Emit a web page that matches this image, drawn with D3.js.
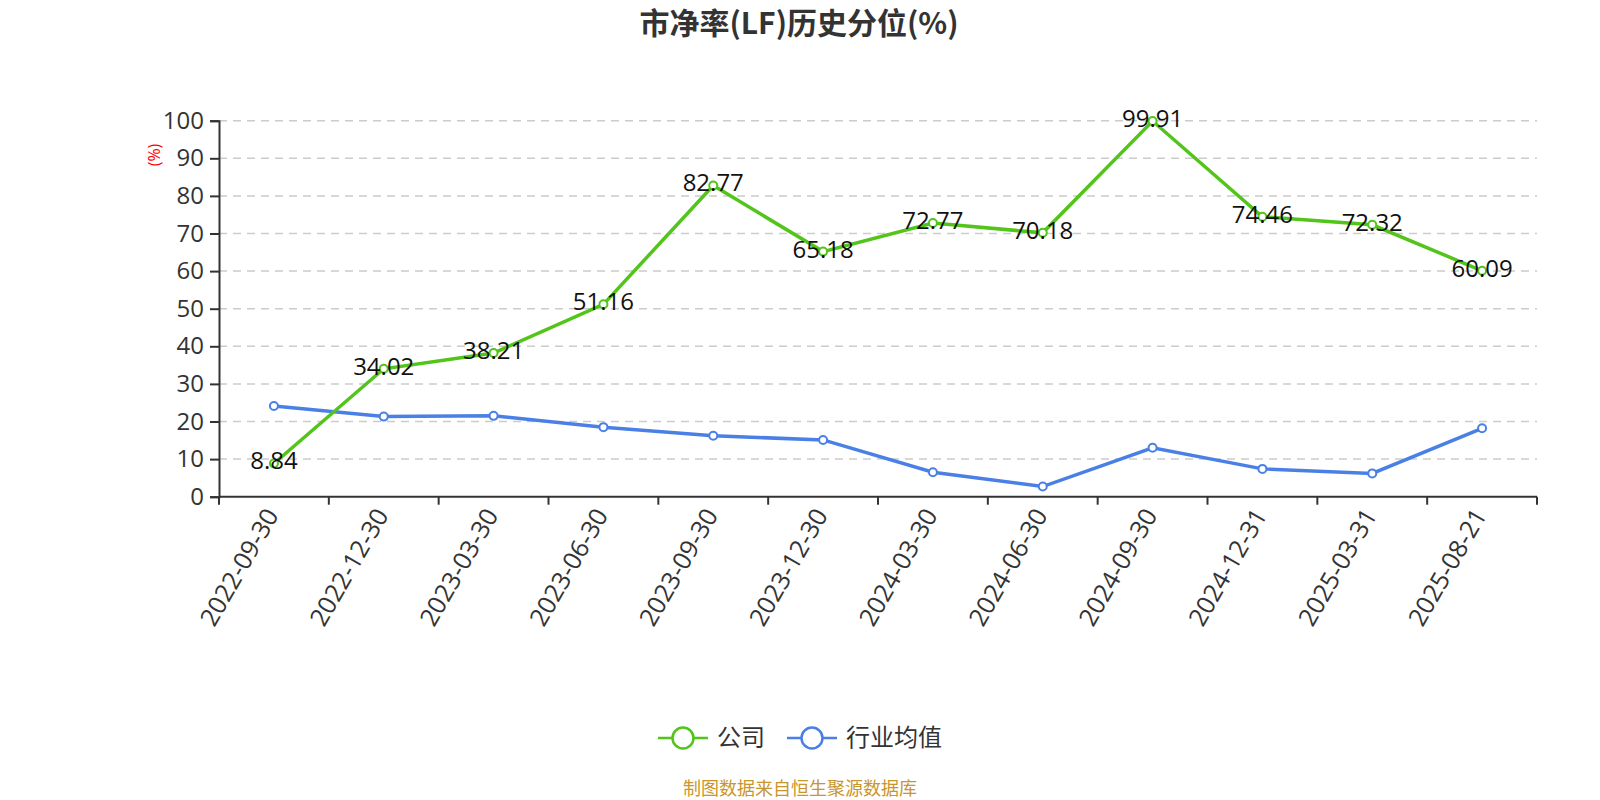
<!DOCTYPE html>
<html>
<head>
<meta charset="utf-8">
<script src="https://cdn.jsdelivr.net/npm/d3@7"></script>
<style>
  body { margin: 0; background: #fff; }
  text { font-family: "Open Sans", "Noto Sans CJK SC", sans-serif; }
</style>
</head>
<body>
<div id="chart"></div>
<script>
// Data
const dates = ['2022-09-30', '2022-12-30', '2023-03-30', '2023-06-30', '2023-09-30', '2023-12-30',
    '2024-03-30', '2024-06-30', '2024-09-30', '2024-12-31', '2025-03-31', '2025-08-21'];
const companyValues = [8.84, 34.02, 38.21, 51.16, 82.77, 65.18, 72.77, 70.18, 99.91, 74.46, 72.32, 60.09];
const industryValues = [24.1, 21.3, 21.5, 18.5, 16.2, 15.1, 6.5, 2.7, 13.0, 7.4, 6.2, 18.2];
const yTicks = [0, 10, 20, 30, 40, 50, 60, 70, 80, 90, 100];
const seriesNames = ['公司', '行业均值'];

const width = 1600;
const height = 800;
const margin = { top: 120.7, right: 63, bottom: 303.3, left: 219 };
const green = '#52c41a';
const blue = '#4a80e6';

const svg = d3.select('#chart').append('svg')
    .attr('width', width)
    .attr('height', height);

const x = d3.scaleBand()
    .domain(dates)
    .range([margin.left, width - margin.right]);

const y = d3.scaleLinear()
    .domain([0, 100])
    .range([height - margin.bottom, margin.top]);

// Title
svg.append('text')
    .attr('x', 799)
    .attr('y', 34)
    .attr('text-anchor', 'middle')
    .style('font-family', '"Noto Sans CJK SC", sans-serif')
    .style('font-size', '30px')
    .style('font-weight', 'bold')
    .style('fill', '#333')
    .text('市净率(LF)历史分位(%)');

// Gridlines
svg.append('g')
    .selectAll('line')
    .data(yTicks.filter(d => d > 0))
    .join('line')
    .attr('x1', margin.left)
    .attr('x2', width - margin.right)
    .attr('y1', d => y(d))
    .attr('y2', d => y(d))
    .attr('stroke', '#ccc')
    .attr('stroke-width', 1.5)
    .attr('stroke-dasharray', '8,6');

// Y axis
const yAxis = svg.append('g')
    .attr('transform', `translate(${margin.left},0)`)
    .call(d3.axisLeft(y).tickValues(yTicks).tickSize(9).tickPadding(6));
yAxis.select('.domain').attr('stroke', '#333').attr('stroke-width', 2);
yAxis.selectAll('.tick line').attr('stroke', '#333').attr('stroke-width', 2);
yAxis.selectAll('.tick text')
    .style('font-size', '24px')
    .style('fill', '#333');

svg.append('text')
    .attr('transform', `translate(160,155) rotate(-90)`)
    .attr('text-anchor', 'middle')
    .style('font-size', '16px')
    .style('fill', 'red')
    .text('(%)');

// X axis
const xAxis = svg.append('g')
    .attr('transform', `translate(0,${y(0)})`);
xAxis.append('line')
    .attr('x1', margin.left)
    .attr('x2', width - margin.right)
    .attr('stroke', '#333')
    .attr('stroke-width', 2);
const boundaries = dates.map(d => x(d)).concat([x(dates[dates.length - 1]) + x.bandwidth()]);
xAxis.selectAll('.xtick')
    .data(boundaries)
    .join('line')
    .attr('class', 'xtick')
    .attr('x1', d => d)
    .attr('x2', d => d)
    .attr('y1', 0)
    .attr('y2', 8)
    .attr('stroke', '#333')
    .attr('stroke-width', 2);
xAxis.selectAll('.xlabel')
    .data(dates)
    .join('text')
    .attr('class', 'xlabel')
    .attr('transform', d => `translate(${x(d) + x.bandwidth() / 2 - 2},${14}) rotate(-60)`)
    .attr('text-anchor', 'end')
    .attr('dy', '0.35em')
    .style('font-size', '25px')
    .style('fill', '#333')
    .text(d => d);

// Lines
const line = d3.line()
    .x((d, i) => x(dates[i]) + x.bandwidth() / 2)
    .y(d => y(d));

function drawSeries(values, color, labels) {
    svg.append('path')
        .datum(values)
        .attr('fill', 'none')
        .attr('stroke', color)
        .attr('stroke-width', 3.5)
        .attr('d', line);
    svg.append('g')
        .selectAll('circle')
        .data(values)
        .join('circle')
        .attr('cx', (d, i) => x(dates[i]) + x.bandwidth() / 2)
        .attr('cy', d => y(d))
        .attr('r', 4)
        .attr('fill', '#fff')
        .attr('stroke', color)
        .attr('stroke-width', 2);
    if (labels) {
        svg.append('g')
            .selectAll('text')
            .data(values)
            .join('text')
            .attr('x', (d, i) => x(dates[i]) + x.bandwidth() / 2)
            .attr('y', d => y(d) + 6)
            .attr('text-anchor', 'middle')
            .style('font-size', '24px')
            .style('fill', '#111')
            .text(d => d.toFixed(2));
    }
}

drawSeries(industryValues, blue, false);
drawSeries(companyValues, green, true);

// Legend
const legendItems = [
    { name: seriesNames[0], color: green, x: 658 },
    { name: seriesNames[1], color: blue, x: 787 }
];
const legend = svg.append('g').attr('transform', 'translate(0,738)');
legendItems.forEach(item => {
    legend.append('line')
        .attr('x1', item.x)
        .attr('x2', item.x + 50)
        .attr('stroke', item.color)
        .attr('stroke-width', 2.5);
    legend.append('circle')
        .attr('cx', item.x + 25)
        .attr('cy', 0)
        .attr('r', 10.5)
        .attr('fill', '#fff')
        .attr('stroke', item.color)
        .attr('stroke-width', 2.5);
    legend.append('text')
        .attr('x', item.x + 59)
        .attr('y', 0)
        .attr('dy', '0.35em')
        .style('font-family', '"Noto Sans CJK SC", sans-serif')
        .style('font-size', '24px')
        .style('fill', '#333')
        .text(item.name);
});

// Source note
svg.append('text')
    .attr('x', 800)
    .attr('y', 789)
    .attr('dy', '0.35em')
    .attr('text-anchor', 'middle')
    .style('font-family', '"Noto Sans CJK SC", sans-serif')
    .style('font-size', '18px')
    .style('fill', '#c9952d')
    .text('制图数据来自恒生聚源数据库');
</script>
</body>
</html>
